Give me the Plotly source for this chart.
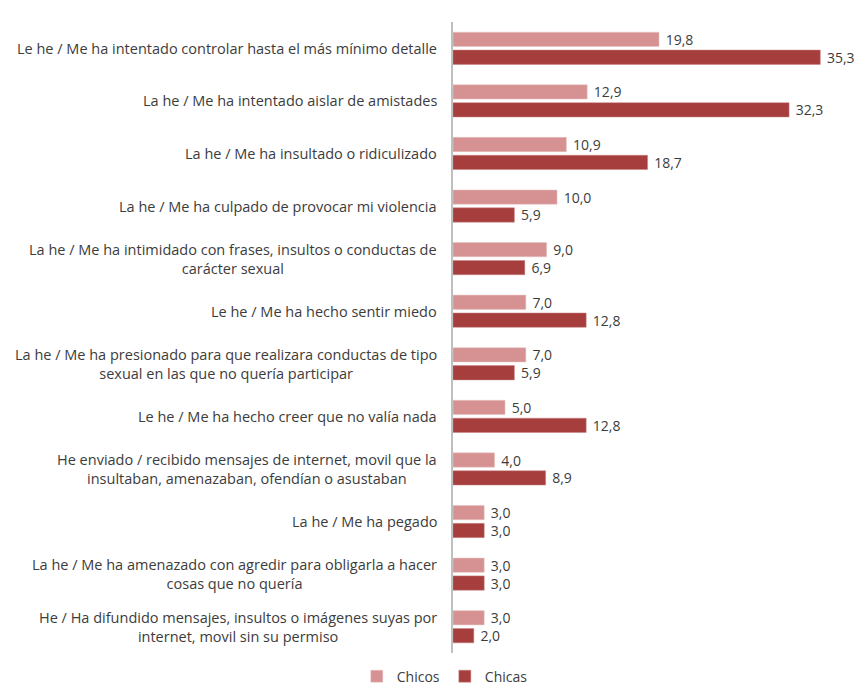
import plotly.graph_objects as go

categories = [
    "Le he / Me ha intentado controlar hasta el más mínimo detalle",
    "La he / Me ha intentado aislar de amistades",
    "La he / Me ha insultado o ridiculizado",
    "La he / Me ha culpado de provocar mi violencia",
    "La he / Me ha intimidado con frases, insultos o conductas de<br>carácter sexual",
    "Le he / Me ha hecho sentir miedo",
    "La he / Me ha presionado para que realizara conductas de tipo<br>sexual en las que no quería participar",
    "Le he / Me ha hecho creer que no valía nada",
    "He enviado / recibido mensajes de internet, movil que la<br>insultaban, amenazaban, ofendían o asustaban",
    "La he / Me ha pegado",
    "La he / Me ha amenazado con agredir para obligarla a hacer<br>cosas que no quería",
    "He / Ha difundido mensajes, insultos o imágenes suyas por<br>internet, movil sin su permiso",
]
chicos = [19.8, 12.9, 10.9, 10.0, 9.0, 7.0, 7.0, 5.0, 4.0, 3.0, 3.0, 3.0]
chicas = [35.3, 32.3, 18.7, 5.9, 6.9, 12.8, 5.9, 12.8, 8.9, 3.0, 3.0, 2.0]

ids = list(range(len(categories)))
TEXT = "#3c3c3c"
FONT = "Open Sans"

fig = go.Figure()
fig.add_trace(go.Bar(
    y=ids, x=chicos, name="Chicos", orientation="h",
    marker=dict(color="#D69292", line=dict(color="#E8C4C4", width=0.5)),
    texttemplate=" %{x:.1f}", textposition="outside", constraintext="none",
    textfont=dict(size=14, color=TEXT, family=FONT), cliponaxis=False,
))
fig.add_trace(go.Bar(
    y=ids, x=chicas, name="Chicas", orientation="h",
    marker=dict(color="#A63E3E", line=dict(color="#C98080", width=0.5)),
    texttemplate=" %{x:.1f}", textposition="outside", constraintext="none",
    textfont=dict(size=14, color=TEXT, family=FONT), cliponaxis=False,
))

for i, label in enumerate(categories):
    fig.add_annotation(
        x=0, xref="paper", y=i, yref="y", text=label, showarrow=False,
        xanchor="right", yanchor="middle", align="center", xshift=-14,
        font=dict(size=14.5, color=TEXT, family=FONT),
    )

fig.update_layout(
    width=864, height=693,
    margin=dict(l=453, r=0, t=22, b=35),
    paper_bgcolor="white", plot_bgcolor="white",
    separators=",.",
    barmode="group", bargap=0.32, bargroupgap=0.2,
    font=dict(family=FONT, color=TEXT, size=14),
    showlegend=True,
    legend=dict(orientation="h", x=-0.02, xanchor="center", y=-0.012, yanchor="top",
                font=dict(size=14, color=TEXT, family=FONT), itemwidth=30,
                traceorder="normal"),
    xaxis=dict(range=[0, 39.5], visible=False, fixedrange=True),
    yaxis=dict(autorange="reversed", showticklabels=False, showline=True,
               linecolor="#BFBFBF", linewidth=1.5, showgrid=False, zeroline=False,
               ticks=""),
)

fig.write_html("out.html")
